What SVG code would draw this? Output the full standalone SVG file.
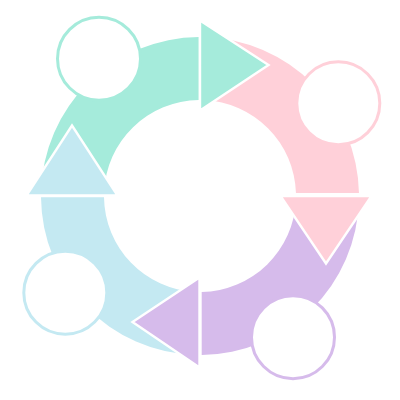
<svg xmlns="http://www.w3.org/2000/svg" width="400" height="400" viewBox="0 0 400 400">
<style>
.teal{fill:#A5EBDB}.pink{fill:#FFD0D9}.purple{fill:#D6BBEB}.blue{fill:#C4E9F2}
.head{stroke:#FFFFFF;stroke-width:2.4;stroke-linejoin:miter}
.node{fill:#FFFFFF;stroke-width:3}
</style>
<rect width="400" height="400" fill="#FFFFFF"/>
<g id="connectors">
<path class="teal" d="M 41.05 192 A 159 159 0 0 1 198.7 37 L 198.7 100 A 96 96 0 0 0 104.08 192 Z"/>
<path class="pink" d="M 204 37.05 A 159 159 0 0 1 358.97 193 L 295.95 193 A 96 96 0 0 0 204 100.08 Z"/>
<path class="purple" d="M 358.95 200 A 159 159 0 0 1 201.7 354.99 L 201.7 291.98 A 96 96 0 0 0 295.92 200 Z"/>
<path class="blue" d="M 195 354.92 A 159 159 0 0 1 41 197.3 L 104 197.3 A 96 96 0 0 0 195 291.87 Z"/>
<polygon class="teal head" points="200,20.5 200,110.5 268.5,65"/>
<polygon class="pink head" points="280.5,196 371.5,196 326,263.5"/>
<polygon class="purple head" points="199.5,277.5 199.5,367.5 132.5,322"/>
<polygon class="blue head" points="26.5,195.5 117.5,195.5 72,125.5"/>
</g>
<g id="node-teal"><circle class="node" cx="99" cy="58.7" r="41.5" stroke="#A5EBDB"/></g>
<g id="node-pink"><circle class="node" cx="338.3" cy="103.3" r="41.5" stroke="#FFD0D9"/></g>
<g id="node-purple"><circle class="node" cx="293" cy="337.2" r="41.5" stroke="#D6BBEB"/></g>
<g id="node-blue"><circle class="node" cx="65.3" cy="292.7" r="41.5" stroke="#C4E9F2"/></g>
</svg>
